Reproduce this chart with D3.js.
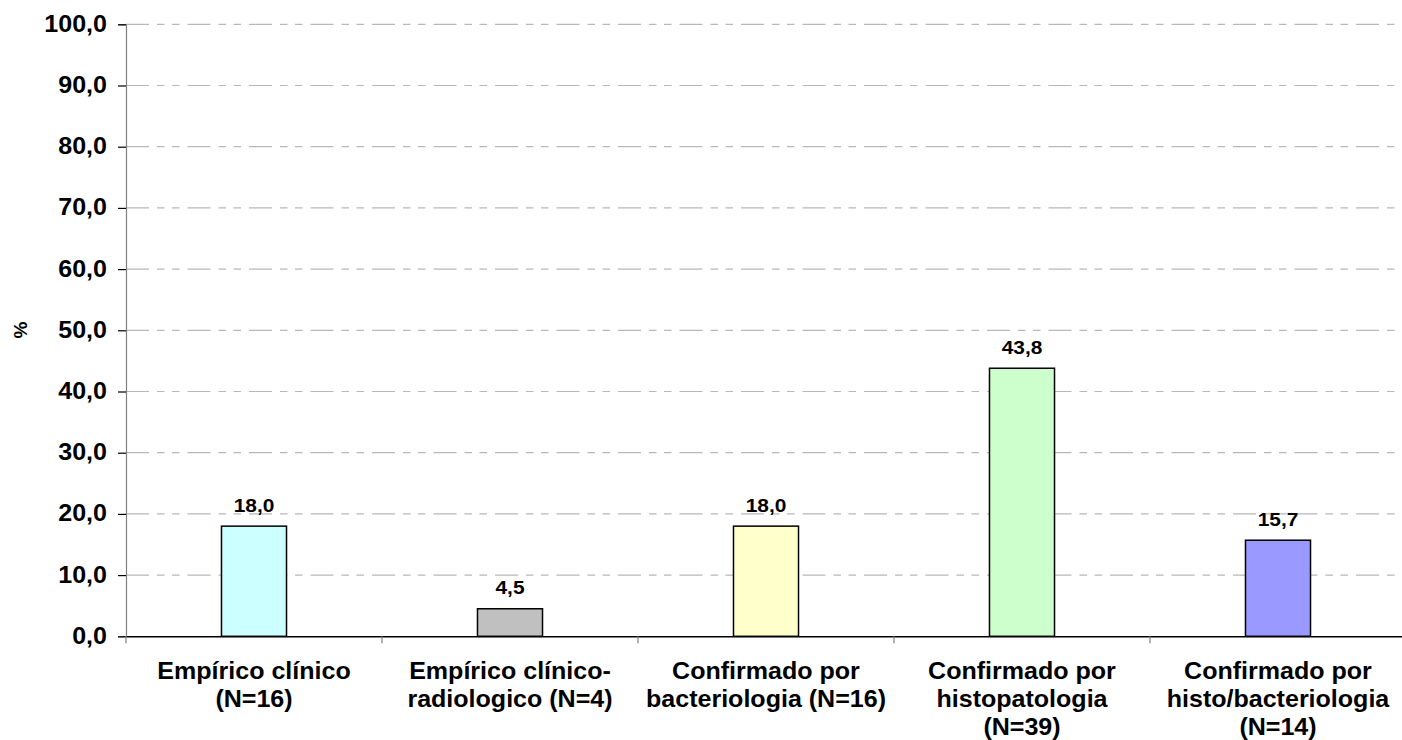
<!DOCTYPE html>
<html>
<head>
<meta charset="utf-8">
<script src="https://cdn.jsdelivr.net/npm/d3@7"></script>
<style>
  html, body { margin: 0; padding: 0; background: #ffffff; }
  svg { display: block; font-family: "Liberation Sans", Arial, sans-serif; font-weight: bold; }
</style>
</head>
<body>
<svg id="chart" width="1402" height="740"></svg>
<script>
// Diagnostic category labels (split into lines) and percentages
const categories = [
  ["Empírico clínico", "(N=16)"],
  ["Empírico clínico-", "radiologico (N=4)"],
  ["Confirmado por", "bacteriologia (N=16)"],
  ["Confirmado por", "histopatologia", "(N=39)"],
  ["Confirmado por", "histo/bacteriologia", "(N=14)"]
];
const values = [18.0, 4.5, 18.0, 43.8, 15.7];
const barColors = ["#CCFFFF", "#C0C0C0", "#FFFFCC", "#CCFFCC", "#9999FF"];
const yTicks = [0, 10, 20, 30, 40, 50, 60, 70, 80, 90, 100];
const yTitle = "%";

const fmt = v => v.toFixed(1).replace(".", ",");

const svg = d3.select("#chart");
const plotLeft = 126, plotRight = 1406, plotTop = 24.3, plotBottom = 636.3;
const axisFont = 23.2, axisStretch = 1.08;
const valueFont = 19, valueStretch = 1.1;

const x = d3.scaleBand()
  .domain(d3.range(values.length))
  .range([plotLeft, plotRight])
  .paddingInner(0)
  .paddingOuter(0);

const y = d3.scaleLinear().domain([0, 100]).range([plotBottom, plotTop]);

// Dashed horizontal gridlines (long dash, two short dashes)
svg.append("g")
  .selectAll("line")
  .data(yTicks.filter(t => t > 0))
  .join("line")
  .attr("x1", plotLeft).attr("x2", plotRight)
  .attr("y1", d => y(d)).attr("y2", d => y(d))
  .attr("stroke", "#b8b8b8")
  .attr("stroke-width", 1.2)
  .attr("stroke-dasharray", "23,8,7.5,7.5,7.5,8");

// Y axis
const yAxis = svg.append("g")
  .attr("transform", `translate(${plotLeft},0)`)
  .call(d3.axisLeft(y).tickValues(yTicks).tickFormat(fmt).tickSize(8).tickPadding(11));
yAxis.select(".domain").attr("stroke", "#808080").attr("stroke-width", 1.2);
yAxis.selectAll(".tick line").attr("stroke", "#000").attr("stroke-width", 1.2);
yAxis.selectAll(".tick text")
  .attr("font-size", axisFont)
  .attr("font-family", "Liberation Sans, Arial, sans-serif")
  .attr("font-weight", "bold")
  .attr("fill", "#000")
  .attr("x", null)
  .attr("dy", "0.3em")
  .attr("transform", `translate(-19,0) scale(${axisStretch},1)`);

// Bars
const barW = x.bandwidth() * 0.254;
svg.append("g")
  .selectAll("rect")
  .data(values)
  .join("rect")
  .attr("x", (d, i) => x(i) + x.bandwidth() / 2 - barW / 2)
  .attr("y", d => y(d))
  .attr("width", barW)
  .attr("height", d => y(0) - y(d))
  .attr("fill", (d, i) => barColors[i])
  .attr("stroke", "#000")
  .attr("stroke-width", 1.5);

// X axis baseline and category separators
const xAxis = svg.append("g")
  .attr("transform", `translate(0,${plotBottom})`)
  .call(d3.axisBottom(x).tickValues([]).tickSizeOuter(0));
xAxis.select(".domain").attr("stroke", "#000").attr("stroke-width", 1.4);
xAxis.selectAll(".sep")
  .data(d3.range(values.length + 1))
  .join("line")
  .attr("class", "sep")
  .attr("x1", i => plotLeft + i * x.step()).attr("x2", i => plotLeft + i * x.step())
  .attr("y1", 0).attr("y2", 7)
  .attr("stroke", "#808080")
  .attr("stroke-width", 1.2);

// Value labels
svg.append("g")
  .selectAll("text")
  .data(values)
  .join("text")
  .attr("transform", (d, i) =>
    `translate(${x(i) + x.bandwidth() / 2},${y(d) - 14.5}) scale(${valueStretch},1)`)
  .attr("text-anchor", "middle")
  .attr("font-size", valueFont)
  .attr("fill", "#000")
  .text(fmt);

// Category labels
const catG = svg.append("g")
  .selectAll("text")
  .data(categories)
  .join("text")
  .attr("transform", (d, i) =>
    `translate(${x(i) + x.bandwidth() / 2},678.5) scale(${axisStretch},1)`)
  .attr("text-anchor", "middle")
  .attr("font-size", axisFont)
  .attr("fill", "#000");
catG.selectAll("tspan")
  .data(d => d)
  .join("tspan")
  .attr("x", 0)
  .attr("y", (d, j) => j * 28.5)
  .text(d => d);

// Y axis title
svg.append("text")
  .attr("transform", `translate(26.5,330) rotate(-90)`)
  .attr("text-anchor", "middle")
  .attr("font-size", 19)
  .attr("fill", "#000")
  .text(yTitle);
</script>
</body>
</html>
